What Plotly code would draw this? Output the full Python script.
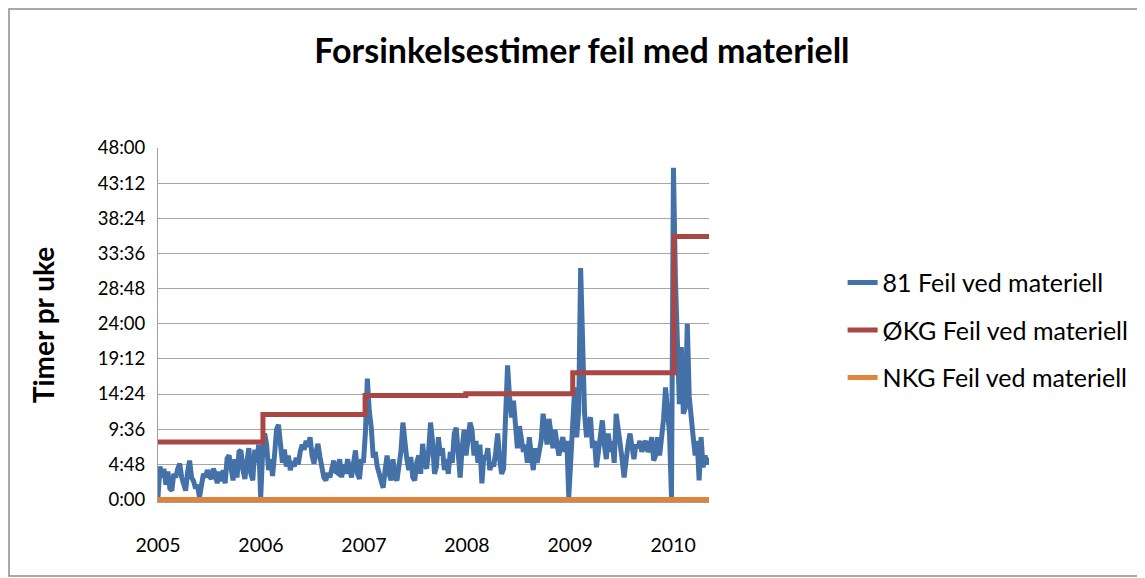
import pandas as pd
import plotly.graph_objects as go

# ---- data (hours per week) ----
blue_2005 = [0.3, 4.5, 3.0, 4.2, 2.0, 3.8, 1.5, 1.2, 3.5, 3.0, 4.2, 4.9, 3.0, 2.2, 1.2, 3.8, 5.3, 3.0,
             2.5, 1.5, 2.0, 0.3, 2.2, 3.5, 3.0, 4.0, 3.2, 2.8, 4.2, 3.5, 2.2, 3.8, 2.5, 4.0, 2.2, 5.6,
             6.0, 4.0, 2.6, 5.5, 3.0, 6.5, 6.7, 4.0, 2.8, 5.2, 7.0, 3.5, 2.6, 6.8, 5.0, 7.5]
blue_2006 = [0.3, 6.5, 9.0, 7.5, 4.0, 5.5, 3.2, 6.0, 9.5, 10.2, 7.0, 5.0, 6.8, 4.5, 6.0, 4.0, 5.2, 4.5,
             5.7, 4.8, 6.5, 7.5, 6.8, 8.0, 7.2, 8.5, 6.0, 4.9, 6.5, 7.6, 5.8, 4.4, 3.0, 2.6, 3.6, 3.0,
             4.5, 5.3, 3.8, 3.6, 5.5, 3.0, 4.8, 3.5, 5.5, 4.2, 3.0, 5.0, 6.7, 3.5, 2.8, 5.5]
blue_2007 = [5.0, 9.0, 16.5, 12.0, 9.8, 5.7, 6.5, 4.5, 3.5, 2.8, 1.6, 4.0, 6.0, 3.5, 2.6, 5.5, 3.0, 2.6,
             4.8, 6.5, 10.5, 7.6, 5.5, 4.0, 5.8, 3.0, 2.6, 5.0, 6.0, 3.5, 7.6, 5.0, 4.2, 6.5, 10.5, 8.0,
             3.5, 4.5, 8.5, 6.0, 7.0, 4.0, 5.5, 3.5, 6.5, 5.0, 9.0, 9.8, 6.0, 3.0, 7.0, 9.5]
blue_2008 = [6.0, 8.5, 10.5, 9.5, 6.0, 8.0, 5.0, 7.5, 2.2, 6.0, 5.5, 7.0, 4.0, 5.0, 4.5, 6.5, 9.0, 5.5,
             3.5, 4.2, 10.0, 18.3, 14.0, 11.2, 13.5, 9.0, 7.0, 10.0, 8.0, 6.5, 7.5, 5.0, 8.5, 6.0, 4.0,
             7.0, 5.0, 6.5, 8.0, 11.7, 9.0, 7.5, 11.0, 8.5, 7.0, 9.5, 8.0, 6.0, 7.5, 8.5, 6.5, 8.0]
blue_2009 = [0.3, 6.0, 10.0, 15.3, 8.5, 12.0, 31.6, 20.0, 11.7, 8.5, 10.5, 11.2, 7.0, 8.0, 4.4, 6.5,
             8.5, 10.8, 7.5, 5.5, 9.0, 6.5, 8.0, 5.0, 11.7, 10.0, 7.5, 5.5, 3.0, 6.0, 7.5, 9.0, 6.5,
             5.5, 7.5, 7.0, 8.0, 6.5, 7.5, 8.0, 6.5, 7.0, 8.5, 5.3, 6.0, 8.5, 6.0, 8.0, 11.0, 15.3,
             12.0, 9.0]
blue_2010 = [0.3, 45.3, 30.0, 22.0, 13.0, 20.8, 11.7, 12.5, 24.0, 14.0, 10.0, 8.5, 6.0, 8.0, 2.6, 8.5,
             4.4, 6.0, 4.8, 5.7]
blue_values = blue_2005 + blue_2006 + blue_2007 + blue_2008 + blue_2009 + blue_2010
weeks = pd.date_range("2005-01-01", periods=len(blue_values), freq="7D")

red_dates = ["2005-01-01", "2006-01-08", "2007-01-05", "2007-12-28", "2009-01-10", "2010-01-04", "2010-05-08"]
red_values = [7.85, 11.6, 14.2, 14.45, 17.3, 35.9, 35.9]

orange_values = [0.0] * len(blue_values)

y_tickvals = [0, 4.8, 9.6, 14.4, 19.2, 24.0, 28.8, 33.6, 38.4, 43.2, 48.0]
y_ticktext = ["0:00", "4:48", "9:36", "14:24", "19:12", "24:00", "28:48", "33:36", "38:24", "43:12", "48:00"]
x_tickvals = ["2005-01-01", "2006-01-01", "2007-01-01", "2008-01-01", "2009-01-01", "2010-01-01"]
x_ticktext = ["2005", "2006", "2007", "2008", "2009", "2010"]

FONT = "Lato"
BLUE = "#4571A9"
RED = "#AA4643"
ORANGE = "#DE843C"

fig = go.Figure()
fig.add_trace(go.Scatter(x=weeks, y=blue_values, mode="lines", name="81 Feil ved materiell",
                         line=dict(color=BLUE, width=5), legendgroup="a"))
fig.add_trace(go.Scatter(x=red_dates, y=red_values, mode="lines", name="ØKG Feil ved materiell",
                         line=dict(color=RED, width=5, shape="hv"), legendgroup="b"))
fig.add_trace(go.Scatter(x=weeks, y=orange_values, mode="lines", name="NKG Feil ved materiell",
                         line=dict(color=ORANGE, width=5), legendgroup="c"))

fig.update_layout(
    width=1137, height=570,
    margin=dict(l=150, r=436, t=140, b=76),
    paper_bgcolor="white", plot_bgcolor="white",
    font=dict(family=FONT, color="black", size=18),
    title=dict(text="<b>Forsinkelsestimer feil med materiell</b>", x=0.5048, xanchor="center",
               y=0.9246, yanchor="middle", font=dict(family=FONT, size=34, color="black")),
    legend=dict(x=1.2425, xanchor="left", y=0.684, yanchor="top", font=dict(family=FONT, size=25),
                tracegroupgap=12, bgcolor="rgba(0,0,0,0)"),
    shapes=[dict(type="rect", xref="paper", yref="paper", x0=-0.2704, x1=1.7822, y0=-0.209, y1=1.3927,
                 line=dict(color="#8C8C8C", width=1.5), layer="below")],
)
fig.update_xaxes(
    type="date", range=["2005-01-01", "2010-05-08"],
    tickvals=x_tickvals, ticktext=x_ticktext, showgrid=False,
    showline=True, linecolor="#A0A0A0", linewidth=1, ticks="", ticklabelstandoff=26,
    tickfont=dict(family=FONT, size=19.5), zeroline=False,
)
fig.update_yaxes(
    range=[-0.35, 48], tickvals=y_tickvals, ticktext=y_ticktext,
    showgrid=True, gridcolor="#A6A6A6", gridwidth=1, zeroline=False,
    showline=True, linecolor="#A0A0A0", linewidth=1, ticks="", ticklabelstandoff=8,
    tickfont=dict(family=FONT, size=18.5),
    title=dict(text="<b>Timer pr uke</b>", font=dict(family=FONT, size=28), standoff=34),
)

fig.write_html("out.html")
